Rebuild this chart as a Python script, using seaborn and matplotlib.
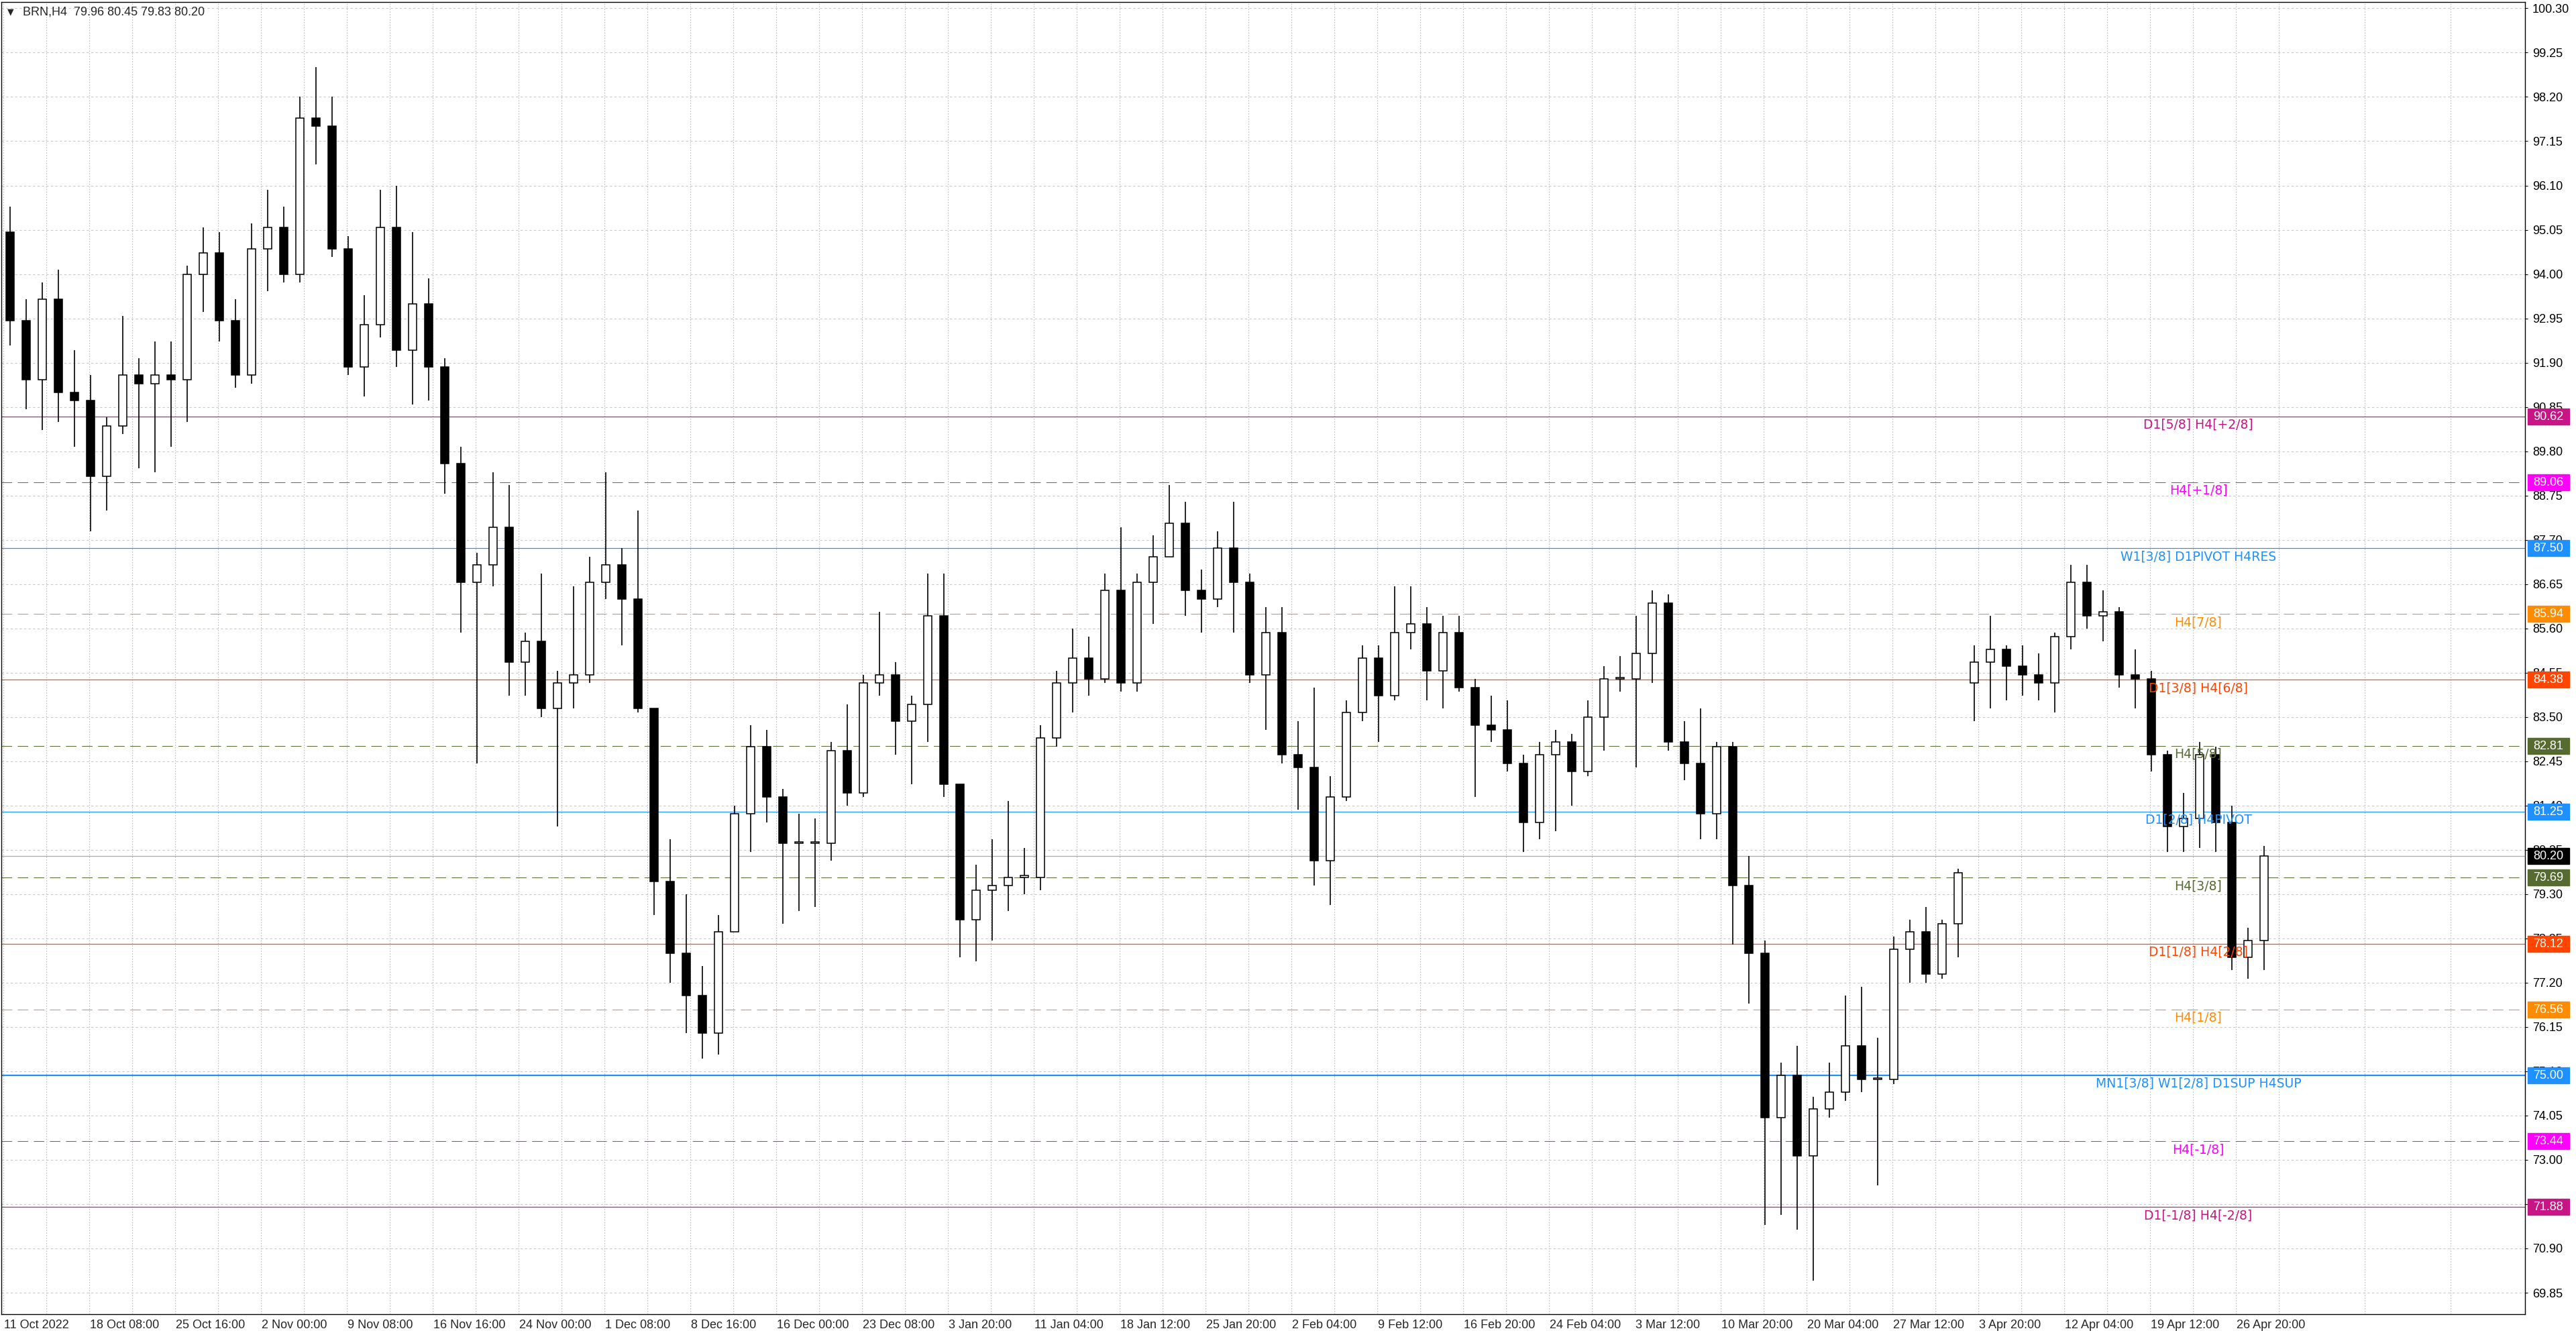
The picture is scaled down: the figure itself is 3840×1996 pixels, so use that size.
import numpy as np
import pandas as pd
import matplotlib
matplotlib.use("Agg")
import matplotlib.pyplot as plt
import matplotlib.transforms as mtransforms
from matplotlib.patches import Rectangle
import seaborn as sns

opens = [95.0, 92.9, 91.5, 93.4, 91.2, 91.0, 89.2, 90.4, 91.6, 91.4,
         91.6, 91.5, 94.0, 94.5, 92.9, 91.6, 94.6, 95.1, 94.0, 97.7,
         97.5, 94.6, 91.8, 92.8, 95.1, 92.2, 93.3, 91.8, 89.5, 86.7,
         87.1, 88.0, 84.8, 85.3, 83.7, 84.3, 84.5, 86.7, 87.1, 86.3,
         83.7, 79.6, 77.9, 76.9, 76.0, 78.4, 81.2, 82.8, 81.6, 80.5,
         80.5, 80.5, 82.7, 81.7, 84.3, 84.5, 83.4, 83.8, 85.9, 81.9,
         78.7, 79.4, 79.5, 79.7, 79.7, 83.0, 84.3, 84.9, 84.4, 86.5,
         84.3, 86.7, 87.3, 88.1, 86.5, 86.3, 87.5, 86.7, 84.5, 85.5,
         82.6, 82.3, 80.1, 81.6, 83.6, 84.9, 84.0, 85.5, 85.7, 84.6,
         85.5, 84.2, 83.3, 83.2, 82.4, 81.0, 82.6, 82.9, 82.2, 83.5,
         84.4, 84.4, 85.0, 86.2, 82.9, 82.4, 81.2, 82.8, 79.5, 77.9,
         74.0, 75.0, 73.1, 74.2, 74.6, 75.7, 74.9, 74.9, 78.0, 78.4,
         77.4, 78.6, 84.3, 84.8, 85.1, 84.7, 84.5, 84.3, 85.4, 86.7,
         85.9, 86.0, 84.5, 84.4, 82.6, 80.9, 81.1, 82.6, 81.0, 77.8,
         78.2]
highs = [95.6, 93.4, 93.8, 94.1, 92.2, 91.6, 90.6, 93.0, 92.0, 92.4,
         92.4, 94.2, 95.1, 95.0, 93.4, 95.2, 96.0, 95.6, 98.2, 98.9,
         98.2, 94.9, 93.5, 96.0, 96.1, 95.0, 93.9, 92.0, 89.9, 87.4,
         89.3, 89.0, 85.5, 86.9, 84.6, 86.6, 87.3, 89.3, 87.5, 88.4,
         83.7, 80.6, 79.3, 77.6, 78.8, 81.4, 83.3, 83.2, 81.8, 81.2,
         81.1, 82.9, 83.8, 84.5, 86.0, 84.8, 84.0, 86.9, 86.9, 81.9,
         80.0, 80.6, 81.5, 80.4, 83.3, 84.6, 85.6, 85.4, 86.9, 88.0,
         86.9, 87.8, 89.0, 88.6, 87.0, 87.9, 88.6, 86.9, 86.1, 86.1,
         83.4, 84.2, 82.1, 83.9, 85.2, 85.2, 86.6, 86.6, 86.1, 85.9,
         85.9, 84.4, 84.0, 83.9, 82.6, 82.9, 83.2, 83.1, 83.9, 84.7,
         84.95, 85.9, 86.5, 86.4, 83.4, 83.7, 82.9, 82.9, 80.2, 78.2,
         75.3, 75.7, 74.5, 75.3, 76.9, 77.1, 75.9, 78.3, 78.7, 79.0,
         78.7, 79.9, 85.2, 85.9, 85.2, 85.2, 85.0, 85.5, 87.1, 87.1,
         86.5, 86.1, 85.1, 84.6, 82.7, 81.7, 82.9, 82.8, 81.4, 78.5,
         80.45]
lows = [92.3, 90.8, 90.3, 90.5, 89.9, 87.9, 88.4, 90.2, 89.4, 89.3,
        89.9, 90.5, 93.1, 92.4, 91.3, 91.4, 93.6, 93.8, 93.8, 96.6,
        94.4, 91.6, 91.1, 92.5, 91.8, 90.9, 91.0, 88.8, 85.5, 82.4,
        86.6, 84.0, 84.0, 83.5, 80.9, 83.7, 84.3, 86.3, 85.2, 83.6,
        78.8, 77.2, 76.0, 75.4, 75.5, 78.4, 80.3, 81.0, 78.6, 78.9,
        79.0, 80.1, 81.4, 81.6, 84.0, 82.6, 81.9, 82.9, 81.6, 77.8,
        77.7, 78.2, 78.9, 79.3, 79.4, 82.8, 83.6, 84.0, 84.3, 84.1,
        84.1, 85.7, 87.3, 85.9, 85.5, 86.1, 85.5, 84.3, 83.2, 82.4,
        81.3, 79.5, 79.05, 81.5, 83.4, 82.9, 83.9, 85.1, 83.9, 83.7,
        84.1, 81.6, 82.9, 82.2, 80.3, 80.6, 80.8, 81.4, 82.1, 82.7,
        84.1, 82.3, 84.3, 82.7, 82.0, 80.6, 80.6, 78.1, 76.7, 71.45,
        71.7, 71.35, 70.14, 74.0, 74.4, 74.6, 72.4, 74.8, 77.2, 77.2,
        77.3, 77.8, 83.4, 83.7, 83.9, 84.0, 83.9, 83.6, 85.1, 85.6,
        85.3, 84.2, 83.7, 82.2, 80.3, 80.3, 80.4, 80.3, 77.5, 77.3,
        77.5]
closes = [92.9, 91.5, 93.4, 91.2, 91.0, 89.2, 90.4, 91.6, 91.4, 91.6,
          91.5, 94.0, 94.5, 92.9, 91.6, 94.6, 95.1, 94.0, 97.7, 97.5,
          94.6, 91.8, 92.8, 95.1, 92.2, 93.3, 91.8, 89.5, 86.7, 87.1,
          88.0, 84.8, 85.3, 83.7, 84.3, 84.5, 86.7, 87.1, 86.3, 83.7,
          79.6, 77.9, 76.9, 76.0, 78.4, 81.2, 82.8, 81.6, 80.5, 80.5,
          80.5, 82.7, 81.7, 84.3, 84.5, 83.4, 83.8, 85.9, 81.9, 78.7,
          79.4, 79.5, 79.7, 79.7, 83.0, 84.3, 84.9, 84.4, 86.5, 84.3,
          86.7, 87.3, 88.1, 86.5, 86.3, 87.5, 86.7, 84.5, 85.5, 82.6,
          82.3, 80.1, 81.6, 83.6, 84.9, 84.0, 85.5, 85.7, 84.6, 85.5,
          84.2, 83.3, 83.2, 82.4, 81.0, 82.6, 82.9, 82.2, 83.5, 84.4,
          84.4, 85.0, 86.2, 82.9, 82.4, 81.2, 82.8, 79.5, 77.9, 74.0,
          75.0, 73.1, 74.2, 74.6, 75.7, 74.9, 74.9, 78.0, 78.4, 77.4,
          78.6, 79.8, 84.8, 85.1, 84.7, 84.5, 84.3, 85.4, 86.7, 85.9,
          86.0, 84.5, 84.4, 82.6, 80.9, 81.1, 82.6, 81.0, 77.8, 78.2,
          80.2]

# Murrey-style levels drawn on the chart
level_prices = [90.62, 89.06, 87.50, 85.94, 84.38, 82.81, 81.25,
                79.69, 78.12, 76.56, 75.00, 73.44, 71.88]
level_names = ["D1[5/8] H4[+2/8]", "H4[+1/8]", "W1[3/8] D1PIVOT H4RES",
               "H4[7/8]", "D1[3/8] H4[6/8]", "H4[5/8]", "D1[2/8] H4PIVOT",
               "H4[3/8]", "D1[1/8] H4[2/8]", "H4[1/8]",
               "MN1[3/8] W1[2/8] D1SUP H4SUP", "H4[-1/8]", "D1[-1/8] H4[-2/8]"]
level_colors = ["#C71585", "#FF00FF", "#1E90FF", "#FF8C00", "#FF4500",
                "#556B2F", "#1E90FF", "#556B2F", "#FF4500", "#FF8C00",
                "#1E90FF", "#FF00FF", "#C71585"]
level_dashed = [False, True, False, True, False, True, False,
                True, False, True, False, True, False]

last_price = 80.20
header = "BRN,H4  79.96 80.45 79.83 80.20"

price_ticks = [100.30, 99.25, 98.20, 97.15, 96.10, 95.05, 94.00, 92.95,
               91.90, 90.85, 89.80, 88.75, 87.70, 86.65, 85.60, 84.55,
               83.50, 82.45, 81.40, 80.35, 79.30, 78.25, 77.20, 76.15,
               75.10, 74.05, 73.00, 71.95, 70.90, 69.85]
date_labels = ["11 Oct 2022", "18 Oct 08:00", "25 Oct 16:00", "2 Nov 00:00",
               "9 Nov 08:00", "16 Nov 16:00", "24 Nov 00:00", "1 Dec 08:00",
               "8 Dec 16:00", "16 Dec 00:00", "23 Dec 08:00", "3 Jan 20:00",
               "11 Jan 04:00", "18 Jan 12:00", "25 Jan 20:00", "2 Feb 04:00",
               "9 Feb 12:00", "16 Feb 20:00", "24 Feb 04:00", "3 Mar 12:00",
               "10 Mar 20:00", "20 Mar 04:00", "27 Mar 12:00", "3 Apr 20:00",
               "12 Apr 04:00", "19 Apr 12:00", "26 Apr 20:00"]

BARS_PER_DAY = 6
BARS_PER_LABEL = 32

sns.set_style("white")
plt.rcParams['font.family'] = ['Liberation Sans', 'DejaVu Sans']

df = pd.DataFrame({"open": opens, "high": highs, "low": lows, "close": closes})
df["x"] = np.arange(len(df)) * BARS_PER_DAY + 2.5
up = df["close"] >= df["open"]
body = (df["close"] - df["open"]).abs().clip(lower=0.04)

fig = plt.figure(figsize=(38.4, 19.96), dpi=100)
ax = fig.add_axes([0.0005, 0.0185, 0.9797, 0.98])
ax.set_xlim(-0.75, 939.75)
ax.set_ylim(69.34, 100.45)

# grid
ax.set_axisbelow(True)
ax.yaxis.grid(True, color="#c8c8c8", lw=0.8, ls=(0, (3, 3)))
major_x = np.arange(len(date_labels)) * BARS_PER_LABEL
minor_x = np.arange(BARS_PER_LABEL // 2, 940, BARS_PER_LABEL)
ax.set_xticks(major_x)
ax.set_xticks(minor_x, minor=True)
ax.xaxis.grid(True, which="both", color="#bdbdbd", lw=0.8, ls=(0, (1.5, 2)))

# candles
ax.vlines(df["x"], df["low"], df["high"], color="black", lw=1.2, zorder=3)
ax.bar(df["x"][up], body[up], bottom=df["open"][up], width=3.0,
       color="white", edgecolor="black", lw=1.1, zorder=4)
ax.bar(df["x"][~up], body[~up], bottom=df["close"][~up], width=3.0,
       color="black", edgecolor="black", lw=1.1, zorder=4)

# levels
blend = mtransforms.blended_transform_factory(ax.transAxes, ax.transData)
for price, name, col, dashed in zip(level_prices, level_names, level_colors, level_dashed):
    if dashed:
        ax.axhline(price, color=col, lw=0.75, ls=(0, (15, 8)), zorder=2)
    else:
        ax.axhline(price, color=col, lw=1.6 if price == 75.00 else 0.85, zorder=2)
    ax.annotate(name, xy=(818, price), xytext=(0, -2), textcoords="offset points",
                ha="center", va="top", color=col, fontsize=13.5,
                family=["DejaVu Sans"], zorder=6)

ax.axhline(last_price, color="#a8a8a8", lw=0.9, zorder=2)

box_prices = level_prices + [last_price]
box_colors = level_colors + ["black"]
for price, col in zip(box_prices, box_colors):
    ax.add_patch(Rectangle((1.0011, price - 0.19), 0.0165, 0.38, transform=blend,
                           facecolor=col, edgecolor=col, clip_on=False, zorder=10))
    ax.text(1.0093, price, f"{price:.2f}", transform=blend, ha="center", va="center",
            color="white", fontsize=13, clip_on=False, zorder=11)

# axes
ax.yaxis.tick_right()
ax.set_yticks(price_ticks)
ax.set_yticklabels([f"{p:.2f}" for p in price_ticks])
ax.tick_params(axis="y", right=True, length=3, width=0.8, pad=5, labelsize=13,
               colors="black")
ax.set_xticklabels(date_labels)
ax.tick_params(axis="x", which="major", length=3, width=0.8, pad=3, labelsize=13)
ax.tick_params(axis="x", which="minor", length=0)
offset = mtransforms.ScaledTranslation(0.01, 0, fig.dpi_scale_trans)
for lbl in ax.get_xticklabels():
    lbl.set_ha("left")
    lbl.set_transform(lbl.get_transform() + offset)

for sp in ax.spines.values():
    sp.set_visible(True)
    sp.set_color("black")
    sp.set_linewidth(1.0)

ax.text(0.0025, 0.9955, "\u25bc", transform=ax.transAxes, ha="left", va="top",
        fontsize=9, family=["DejaVu Sans"])
ax.text(0.0085, 0.9965, header, transform=ax.transAxes, ha="left", va="top",
        fontsize=13)

ax.set_xlabel("")
ax.set_ylabel("")
fig.savefig("out.png", dpi=100, facecolor="white")
